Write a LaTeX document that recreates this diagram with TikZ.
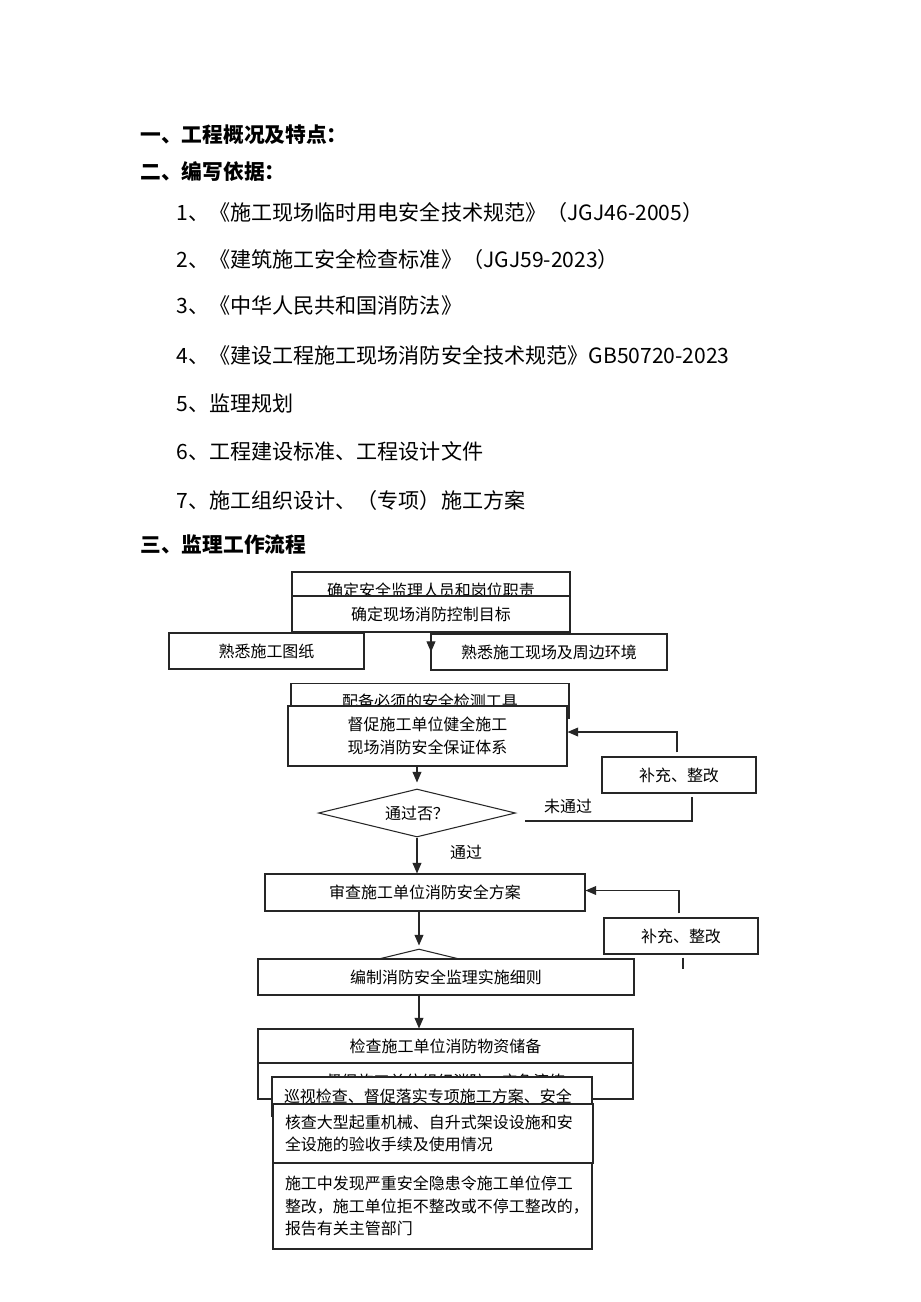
\documentclass[tikz,border=0pt]{standalone}
\usepackage{fontspec}
\setmainfont{Noto Sans CJK SC}
\usetikzlibrary{shapes.geometric,arrows.meta}
\newcommand{\px}{0.02cm}
\tikzset{
  box/.style={draw=black!85, line width=0.6pt, fill=white, inner sep=0pt,
    font=\fontsize{9.1pt}{12.8pt}\selectfont, align=center},
  tbox/.style={box, align=left, inner xsep=12*\px},
  decide/.style={box, diamond, aspect=4, inner sep=0pt},
  line/.style={draw=black!85, line width=0.6pt},
  arr/.style={line, -{Triangle[length=6pt,width=5pt]}},
  head/.style={anchor=west, inner sep=0pt, font=\fontsize{11.8pt}{14pt}\selectfont\bfseries},
  item/.style={anchor=west, inner sep=0pt, font=\fontsize{12pt}{14pt}\selectfont},
  lbl/.style={inner sep=0pt, font=\fontsize{9.1pt}{11pt}\selectfont}
}
\begin{document}
\begin{tikzpicture}[x=\px, y=-\px]
  \useasboundingbox[fill=white] (0,0) rectangle (920,1302);
  % headings and list
  \node[head] (h1) at (140,135) {一、工程概况及特点：};
  \node[head] (h2) at (140,172) {二、编写依据：};
  \node[item] (r1) at (176,212) {1、《施工现场临时用电安全技术规范》（JGJ46-2005）};
  \node[item] (r2) at (176,259) {2、《建筑施工安全检查标准》（JGJ59-2023）};
  \node[item] (r3) at (176,305) {3、《中华人民共和国消防法》};
  \node[item] (r4) at (176,355) {4、《建设工程施工现场消防安全技术规范》GB50720-2023};
  \node[item] (r5) at (176,403) {5、监理规划};
  \node[item] (r6) at (176,451) {6、工程建设标准、工程设计文件};
  \node[item] (r7) at (176,500) {7、施工组织设计、（专项）施工方案};
  \node[head] (h3) at (140,545) {三、监理工作流程};
  % flow chart
  \node[box, minimum width=278*\px, minimum height=36*\px] (staff) at (431,590) {确定安全监理人员和岗位职责};
  \node[box, minimum width=278*\px, minimum height=36*\px] (goal) at (431,614) {确定现场消防控制目标};
  \node[box, minimum width=195*\px, minimum height=36*\px] (drw) at (266.5,651) {熟悉施工图纸};
  \node[box, minimum width=236*\px, minimum height=36*\px] (site) at (549,652) {熟悉施工现场及周边环境};
  \node[box, minimum width=278*\px, minimum height=35*\px] (tools) at (430,701) {配备必须的安全检测工具};
  \node[box, minimum width=279*\px, minimum height=60*\px] (sys) at (427.5,736) {督促施工单位健全施工\\现场消防安全保证体系};
  \node[decide, minimum width=197*\px, minimum height=48*\px] (pass) at (417,813) {通过否？};
  \node[box, minimum width=154*\px, minimum height=36*\px] (fixA) at (679,775) {补充、整改};
  \node[box, minimum width=320*\px, minimum height=37*\px] (plan) at (425,892.5) {审查施工单位消防安全方案};
  \node[box, minimum width=154*\px, minimum height=36*\px] (fixB) at (681,936) {补充、整改};
  \node[decide, minimum width=180*\px, minimum height=44*\px] (pass2) at (419,971) {};
  \node[box, minimum width=376*\px, minimum height=36*\px] (rules) at (446,977) {编制消防安全监理实施细则};
  \node[box, minimum width=375*\px, minimum height=34*\px] (stock) at (445.5,1046) {检查施工单位消防物资储备};
  \node[box, minimum width=375*\px, minimum height=36*\px] (drill) at (445.5,1081) {督促施工单位组织消防、应急演练};
  \node[tbox, text width=296*\px, minimum height=39*\px] (patrol) at (432,1096.5) {巡视检查、督促落实专项施工方案、安全};
  \node[tbox, text width=296*\px, minimum height=59*\px] (crane) at (433,1133.5) {核查大型起重机械、自升式架设设施和安\\全设施的验收手续及使用情况};
  \node[tbox, text width=295*\px, minimum height=86*\px] (stop) at (432.5,1206) {施工中发现严重安全隐患令施工单位停工\\整改，施工单位拒不整改或不停工整改的，\\报告有关主管部门};
  % connectors
  \draw[arr] (goal.south) -- (goal.south |- site.west);
  \draw[arr] (pass.north |- sys.south) -- ([yshift=6*\px]pass.north);
  \draw[arr] (pass.south) -- (pass.south |- plan.north);
  \draw[line] ([xshift=9*\px,yshift=-8*\px]pass.east) -| ([xshift=13*\px,yshift=-3*\px]fixA.south);
  \draw[arr] ([xshift=-2*\px,yshift=4*\px]fixA.north) |- ([yshift=4*\px]sys.east);
  \draw[arr] ([xshift=-2*\px,yshift=4*\px]fixB.north) |- ([yshift=2*\px]plan.east);
  \draw[line] ([xshift=2*\px,yshift=-3*\px]fixB.south) -- ++(0,11);
  \draw[arr] (pass2.north |- plan.south) -- ([yshift=3*\px]pass2.north);
  \draw[arr] ([yshift=2*\px]pass2.north |- rules.south) -- (pass2.north |- stock.north);
  \node[lbl] (no) at (568,806) {未通过};
  \node[lbl] (yes) at (466,852) {通过};
\end{tikzpicture}
\end{document}
